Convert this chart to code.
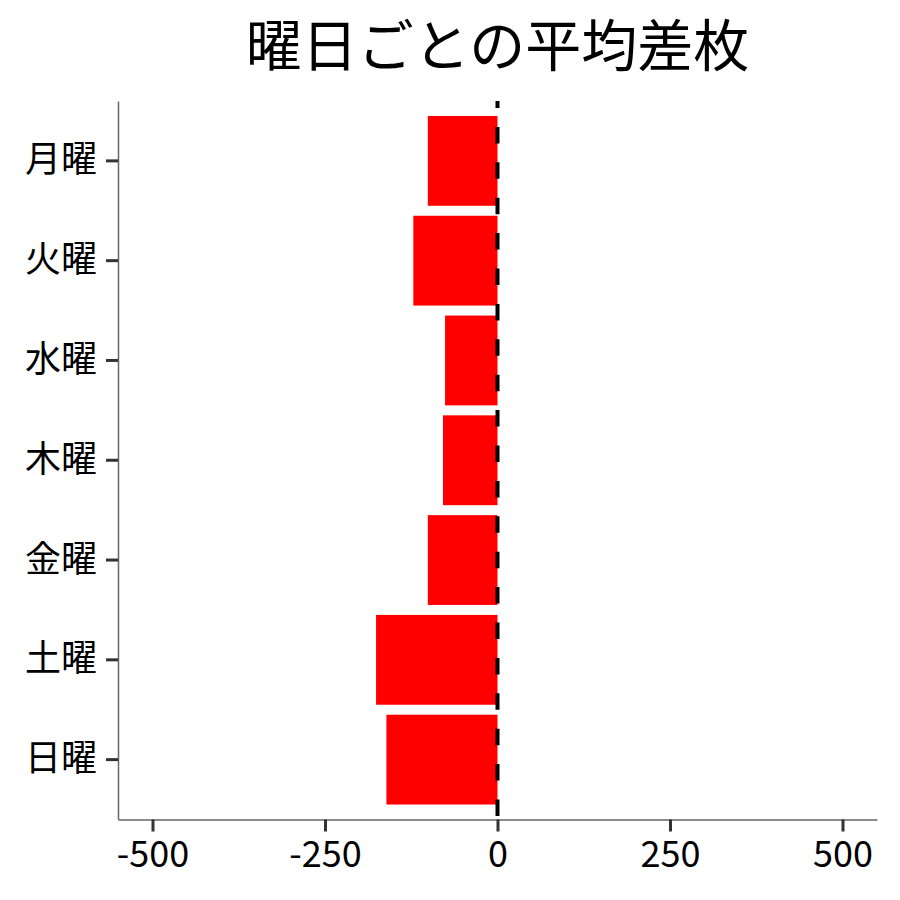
<!DOCTYPE html>
<html>
<head>
<meta charset="utf-8">
<script src="https://cdn.jsdelivr.net/npm/d3@7"></script>
<style>
  body { margin: 0; background: #fff; }
  text { font-family: "Noto Sans CJK JP", sans-serif; }
</style>
</head>
<body>
<div id="chart"></div>
<script>
// Data
const days = ["月曜", "火曜", "水曜", "木曜", "金曜", "土曜", "日曜"];
const meanDiff = [-101, -122, -76, -79, -101, -176, -161];
const xTicks = [-500, -250, 0, 250, 500];
const titleText = "曜日ごとの平均差枚";

function draw(el) {
  const dimensions = {
    width: 900,
    height: 900,
    margin: { top: 101, right: 23, bottom: 80.5, left: 118 }
  };

  const svg = d3
    .select(el)
    .append("svg")
    .attr("width", dimensions.width)
    .attr("height", dimensions.height);

  const plotRight = dimensions.width - dimensions.margin.right;
  const plotBottom = dimensions.height - dimensions.margin.bottom;

  // Scales
  const xScale = d3
    .scaleLinear()
    .domain([-550, 550])
    .range([dimensions.margin.left, plotRight]);

  const yScale = d3
    .scaleBand()
    .domain(days)
    .range([dimensions.margin.top, plotBottom])
    .paddingInner(0.1)
    .paddingOuter(0.15);

  // Title
  svg
    .append("text")
    .attr("x", (dimensions.margin.left + plotRight) / 2)
    .attr("y", 66)
    .attr("text-anchor", "middle")
    .style("font-size", "56px")
    .attr("fill", "#000")
    .text(titleText);

  // Bars
  svg
    .append("g")
    .selectAll("rect")
    .data(days.map((d, i) => ({ day: d, value: meanDiff[i] })))
    .join("rect")
    .attr("x", (d) => xScale(Math.min(0, d.value)))
    .attr("y", (d) => yScale(d.day))
    .attr("width", (d) => Math.abs(xScale(d.value) - xScale(0)))
    .attr("height", yScale.bandwidth())
    .attr("fill", "#FF0000");

  // Zero line
  svg
    .append("line")
    .attr("x1", xScale(0))
    .attr("x2", xScale(0))
    .attr("y1", dimensions.margin.top)
    .attr("y2", plotBottom)
    .attr("stroke", "#000")
    .attr("stroke-width", 4)
    .attr("stroke-dasharray", "16.5 18.9")
    .attr("stroke-dashoffset", 9.5);

  // X axis
  const xAxis = d3
    .axisBottom(xScale)
    .tickValues(xTicks)
    .tickFormat((d) => String(d))
    .tickSize(12)
    .tickSizeOuter(0)
    .tickPadding(10);
  const gx = svg
    .append("g")
    .attr("transform", `translate(0, ${plotBottom})`)
    .call(xAxis);
  gx.select(".domain").attr("stroke", "#666").attr("stroke-width", 1.5);
  gx.selectAll(".tick line").attr("stroke", "#333").attr("stroke-width", 3);
  gx.selectAll(".tick text")
    .attr("fill", "#000")
    .style("font-size", "36px")
    .style("font-family", '"Noto Sans CJK JP", sans-serif');

  // Y axis
  const yAxis = d3
    .axisLeft(yScale)
    .tickSize(12)
    .tickSizeOuter(0)
    .tickPadding(9);
  const gy = svg
    .append("g")
    .attr("transform", `translate(${dimensions.margin.left}, 0)`)
    .call(yAxis);
  gy.select(".domain").attr("stroke", "#666").attr("stroke-width", 1.5);
  gy.selectAll(".tick line").attr("stroke", "#333").attr("stroke-width", 3);
  gy.selectAll(".tick text")
    .attr("fill", "#000")
    .style("font-size", "36px")
    .style("font-family", '"Noto Sans CJK JP", sans-serif');
}

draw("#chart");
</script>
</body>
</html>
